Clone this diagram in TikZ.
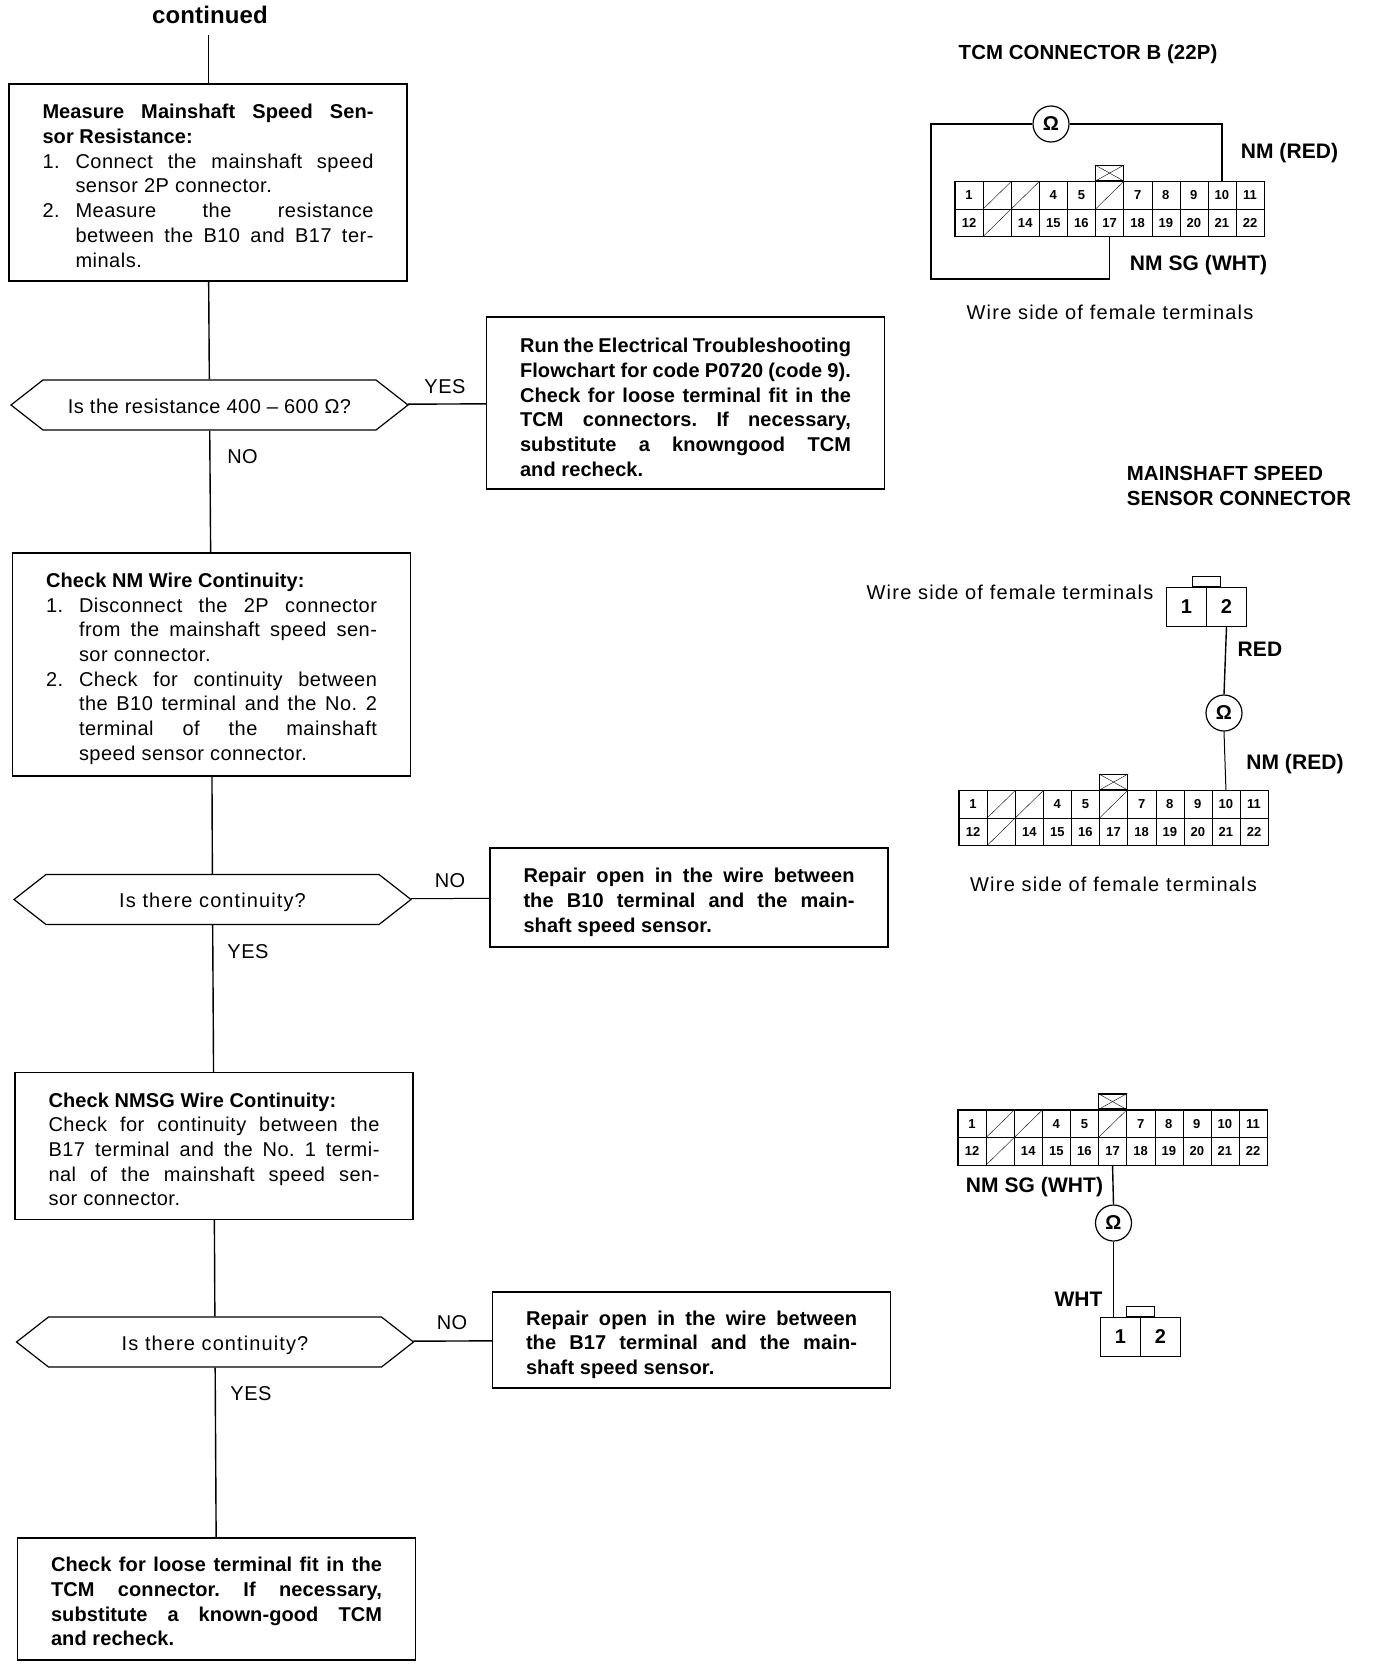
\documentclass[tikz,border=0pt]{standalone}
\usepackage{fontspec}
\setmainfont[LetterSpace=2.5,BoldFeatures={LetterSpace=0.5}]{Liberation Sans}
\usetikzlibrary{shapes.symbols,calc}
\tolerance=9999
\hbadness=10000
\frenchspacing
\newcommand{\numitem}[2]{\par\hangindent=33pt\hangafter=1\noindent\makebox[33pt][l]{#1}#2\par}
\newcommand{\tcmconn}[3]{%
	\foreach \n/\lab in {1/1,2/{},3/{},4/4,5/5,6/{},7/7,8/8,9/9,10/10,11/11}
	\node[cell style] (#1c\n) at ({#2+(\n-1)*28.1+14.05}, #3-13.75) {\lab};
	\foreach \n/\lab in {12/12,13/{},14/14,15/15,16/16,17/17,18/18,19/19,20/20,21/21,22/22}
	\node[cell style] (#1c\n) at ({#2+(\n-12)*28.1+14.05}, #3+13.75) {\lab};
	\foreach \n in {2,3,6,13}
	\draw[thin] (#1c\n.south west) -- (#1c\n.north east);
	\draw[line width=1.4pt] (#1c1.north west) rectangle (#1c22.south east);
	\node[key style, above=0pt] (#1key) at (#1c6.north) {};
	\draw[thin] (#1key.south west) -- (#1key.north east);
	\draw[thin] (#1key.north west) -- (#1key.south east);
}
\newcommand{\twopin}[3]{%
	\node[pin style] (#1p1) at (#2+20, #3) {1};
	\node[pin style] (#1p2) at (#2+60, #3) {2};
	\node[tab style, above=0pt] (#1tab) at ($(#1p1.north)!0.5!(#1p2.north)$) {};
}
\begin{document}
\begin{tikzpicture}[x=1pt, y=-1pt,
	every node/.style={font=\fontsize{20}{24.7}\selectfont},
	box style/.style={rectangle, draw, line width=1.2pt, text width=331pt, inner xsep=33.5pt, inner ysep=0pt, align=justify, execute at begin node={\rule{0pt}{#1}}},
	box style/.default=21pt,
	bold style/.style={box style=#1, font=\fontsize{20}{24.7}\selectfont\bfseries},
	bold style/.default=21pt,
	ask style/.style={signal, signal to=west and east, signal pointer angle=76, draw, line width=1.2pt, minimum width=397pt, minimum height=50pt, inner sep=0pt},
	lab style/.style={font=\fontsize{20.4}{24.7}\selectfont\bfseries, inner sep=0pt},
	wire lab/.style={font=\fontsize{21}{24.7}\selectfont\bfseries, inner sep=0pt},
	plain style/.style={inner sep=0pt},
	side style/.style={inner sep=0pt, font=\fontsize{20}{24.7}\selectfont\addfontfeature{LetterSpace=6}},
	cell style/.style={rectangle, draw, thin, minimum width=28.1pt, minimum height=27.5pt, inner sep=0pt, font=\fontsize{13}{13}\selectfont\bfseries},
	key style/.style={rectangle, draw, line width=1.4pt, minimum width=28pt, minimum height=15pt, inner sep=0pt},
	pin style/.style={rectangle, draw, line width=1pt, minimum width=40pt, minimum height=39pt, inner sep=0pt, font=\fontsize{20}{20}\selectfont\bfseries},
	tab style/.style={rectangle, draw, thin, minimum width=28pt, minimum height=10pt, inner sep=0pt},
	ohm style/.style={circle, draw, line width=1.2pt, minimum size=36pt, inner sep=0pt, font=\fontsize{20}{20}\selectfont\bfseries},
	wire/.style={line width=1.4pt},
	light wire/.style={line width=1pt}]
	\useasboundingbox (0,0) rectangle (1376,1668);
	\node[lab style, font=\fontsize{24}{24}\selectfont\bfseries] (cont) at (210, 15) {continued};
	\coordinate (start) at (208, 35);
	\node[box style, minimum height=197pt] (boxA) at (208, 182.5) {\textbf{Measure Mainshaft Speed Sen-\linebreak sor Resistance:}
		\numitem{1.}{Connect the mainshaft speed\linebreak sensor 2P connector.}
		\numitem{2.}{Measure the resistance\linebreak between the B10 and B17 ter-\linebreak minals.}};
	\node[ask style] (askA) at (209.5, 405) {\rule{0pt}{17pt}Is the resistance 400 -- 600 Ω?};
	\node[bold style=23pt, minimum height=172pt] (runA) at (685.5, 403) {Run the Electrical Troubleshooting\linebreak Flowchart for code P0720 (code 9).\newline Check for loose terminal fit in the\linebreak TCM connectors. If necessary,\linebreak substitute a knowngood TCM\linebreak and recheck.};
	\node[plain style] (yesA) at (445, 387) {YES};
	\node[plain style] (noA) at (242.5, 457) {NO};
	\node[box style=23pt, minimum height=223pt] (boxB) at (211.5, 664.5) {\textbf{Check NM Wire Continuity:}
		\numitem{1.}{Disconnect the 2P connector\linebreak from the mainshaft speed sen-\linebreak sor connector.}
		\numitem{2.}{Check for continuity between\linebreak the B10 terminal and the No. 2\linebreak terminal of the mainshaft\linebreak speed sensor connector.}};
	\node[ask style] (askB) at (212.5, 899.5) {\rule{0pt}{21pt}\addfontfeature{LetterSpace=5.5}Is there continuity?};
	\node[bold style=24pt, minimum height=99pt] (fixB) at (689, 897.5) {Repair open in the wire between\linebreak the B10 terminal and the main-\linebreak shaft speed sensor.};
	\node[plain style] (noB) at (450, 880.5) {NO};
	\node[plain style] (yesB) at (248, 951.5) {YES};
	\node[box style, minimum height=147pt] (boxC) at (214, 1146) {\textbf{Check NMSG Wire Continuity:}\newline Check for continuity between the\linebreak B17 terminal and the No. 1 termi-\linebreak nal of the mainshaft speed sen-\linebreak sor connector.};
	\node[ask style] (askC) at (215, 1342) {\rule{0pt}{21pt}\addfontfeature{LetterSpace=5.5}Is there continuity?};
	\node[bold style=24pt, minimum height=96pt] (fixC) at (691.5, 1340) {Repair open in the wire between\linebreak the B17 terminal and the main-\linebreak shaft speed sensor.};
	\node[plain style] (noC) at (452, 1323) {NO};
	\node[plain style] (yesC) at (251, 1394) {YES};
	\node[bold style=20pt, minimum height=122pt] (boxD) at (216.5, 1599) {Check for loose terminal fit in the\linebreak TCM connector. If necessary,\linebreak substitute a known-good TCM\linebreak and recheck.};
	\draw[light wire] (start) -- (boxA);
	\draw[wire] (boxA) -- (askA);
	\draw[wire] (askA) -- (boxB);
	\draw[wire] (boxB) -- (askB);
	\draw[wire] (askB) -- (boxC);
	\draw[wire] (boxC) -- (askC);
	\draw[wire] (askC) -- (boxD);
	\draw[wire] (askA) -- (runA);
	\draw[light wire] (askB) -- (fixB);
	\draw[wire] (askC) -- (fixC);
	\node[lab style] (titleA) at (1088, 54.5) {TCM CONNECTOR B (22P)};
	\tcmconn{a}{955}{209}
	\node[ohm style] (ohmA) at (1051, 124) {Ω};
	\coordinate (loopA) at (931, 279);
	\draw[wire] (ac17.south) |- (loopA) |- (ohmA.west);
	\draw[wire] (ohmA.east) -| (ac10.north);
	\node[wire lab] (nmA) at (1289.5, 153.5) {NM (RED)};
	\node[wire lab] (sgA) at (1198.5, 265) {NM SG (WHT)};
	\node[side style] (sideA) at (1110, 312.5) {Wire side of female terminals};
	\node[lab style, align=left] (titleB) at (1239, 486) {MAINSHAFT SPEED\\SENSOR CONNECTOR};
	\node[side style] (sideB) at (1010, 592.5) {Wire side of female terminals};
	\twopin{b}{1166.5}{606.5}
	\node[ohm style] (ohmB) at (1224, 713) {Ω};
	\tcmconn{b}{959}{818}
	\draw[wire] (bp2.south) -- (ohmB.north);
	\draw[light wire] (ohmB.south) -- (bc10.north);
	\node[wire lab] (redB) at (1260, 649) {RED};
	\node[wire lab] (nmB) at (1295, 764) {NM (RED)};
	\node[side style] (sideC) at (1113.5, 884) {Wire side of female terminals};
	\tcmconn{c}{958}{1137.5}
	\node[ohm style] (ohmC) at (1113.5, 1223) {Ω};
	\twopin{c}{1100.5}{1336.5}
	\coordinate (entC) at (1113.5, 1317);
	\draw[wire] (cc17.south) -- (ohmC.north);
	\draw[wire] (ohmC.south) -- (entC);
	\node[wire lab] (sgC) at (1034.5, 1187) {NM SG (WHT)};
	\node[wire lab] (whtC) at (1078.5, 1299) {WHT};
\end{tikzpicture}
\end{document}
